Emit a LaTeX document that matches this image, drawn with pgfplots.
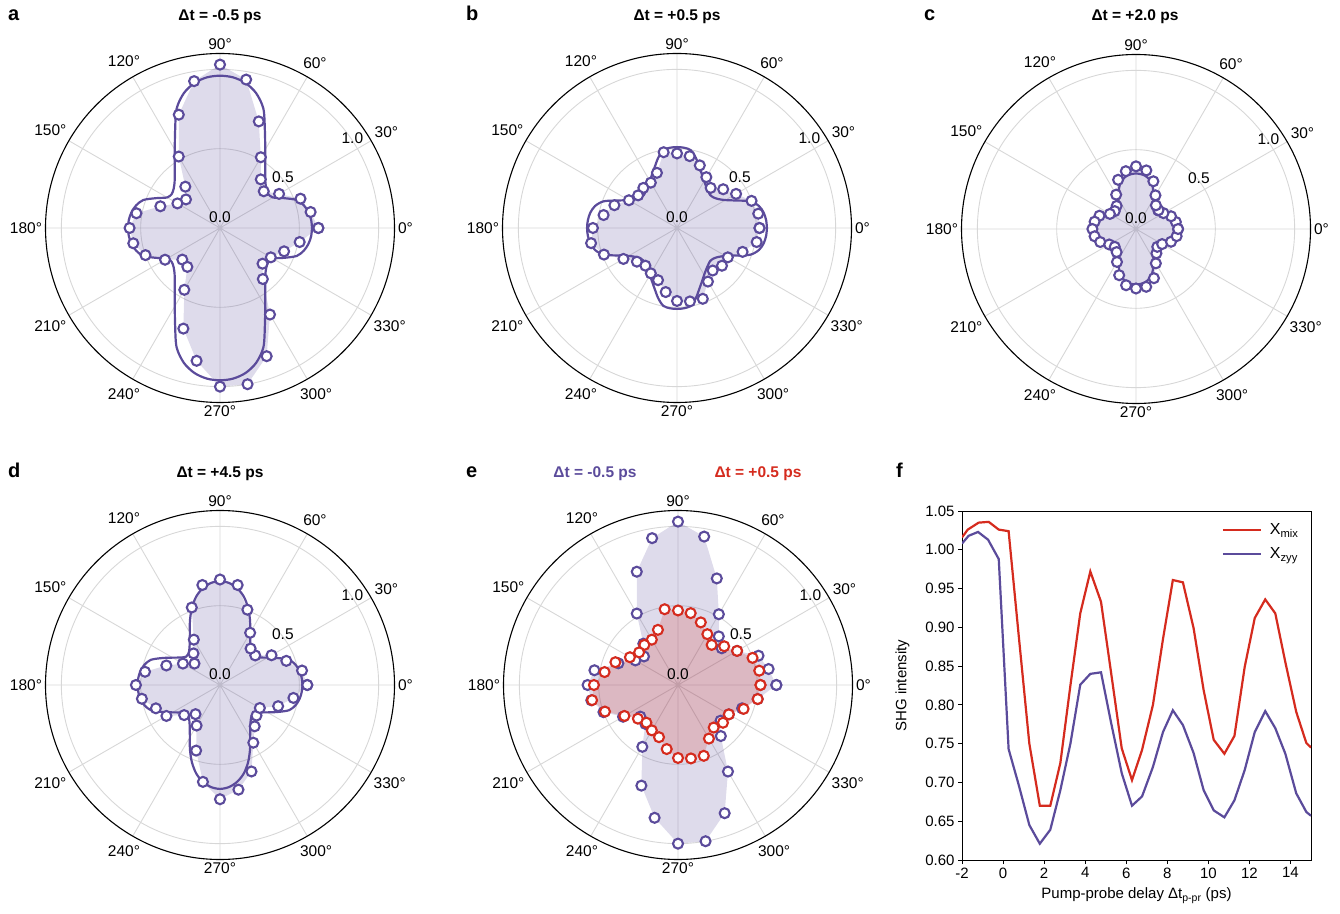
\documentclass[border=0pt]{standalone}
\usepackage{pgfplots}
\pgfplotsset{compat=1.18}
\usepackage{pgfplotstable}
\usepgfplotslibrary{polar}
\usepackage{fontspec}
\setmainfont{Liberation Sans}
\definecolor{pur}{RGB}{91,75,155}
\definecolor{redc}{RGB}{213,43,30}
\definecolor{grd}{RGB}{215,215,215}
\newcommand\tk{\fontsize{15.5}{18}\selectfont}
\newcommand\tkf{\fontsize{15}{18}\selectfont}

% ---------- polar data (angle in degrees, normalised SHG intensity) ----------
\pgfplotstableread{
a r
0 0.62
10 0.58
20 0.54
30 0.43
40 0.36
50 0.40
60 0.515
70 0.715
80 0.95
90 1.03
100 0.94
110 0.76
120 0.52
130 0.34
140 0.28
150 0.31
160 0.40
170 0.535
180 0.57
190 0.555
200 0.50
210 0.40
220 0.31
230 0.32
240 0.45
250 0.675
260 0.85
270 1.00
280 1.00
290 0.86
300 0.63
310 0.42
320 0.35
330 0.37
340 0.43
350 0.51
360 0.62
}\dA
\pgfplotstableread{
a r
0 .580
5 .577
10 .567
15 .548
20 .515
25 .445
30 .385
35 .372
40 .382
45 .405
50 .443
55 .497
60 .570
65 .670
70 .800
75 .880
80 .928
85 .953
90 .960
95 .953
100 .928
105 .880
110 .800
115 .670
120 .570
125 .497
130 .443
135 .405
140 .382
145 .372
150 .385
155 .445
160 .515
165 .548
170 .567
175 .577
180 .580
185 .577
190 .567
195 .548
200 .515
205 .445
210 .385
215 .372
220 .382
225 .405
230 .443
235 .497
240 .570
245 .670
250 .800
255 .880
260 .928
265 .953
270 .960
275 .953
280 .928
285 .880
290 .800
295 .670
300 .570
305 .497
310 .443
315 .405
320 .382
325 .372
330 .385
335 .445
340 .515
345 .548
350 .567
355 .577
360 .580
}\fA
\pgfplotstableread{
a r
0 0.52
10 0.52
20 0.50
30 0.43
40 0.38
50 0.33
60 0.37
70 0.42
80 0.46
90 0.47
100 0.485
110 0.37
120 0.33
130 0.33
140 0.32
150 0.35
160 0.42
170 0.47
180 0.53
190 0.55
200 0.49
210 0.39
220 0.33
230 0.31
240 0.33
250 0.35
260 0.41
270 0.46
280 0.47
290 0.475
300 0.39
310 0.35
320 0.37
330 0.37
340 0.44
350 0.51
360 0.52
}\dB
\pgfplotstableread{
a r
0 .567
5 .564
10 .555
15 .535
20 .492
25 .410
30 .352
35 .318
40 .300
45 .295
50 .305
55 .320
60 .342
65 .372
70 .410
75 .458
80 .498
85 .508
90 .510
95 .508
100 .498
105 .458
110 .410
115 .372
120 .342
125 .320
130 .305
135 .295
140 .300
145 .318
150 .352
155 .410
160 .492
165 .535
170 .555
175 .564
180 .567
185 .564
190 .555
195 .535
200 .492
205 .410
210 .352
215 .318
220 .300
225 .295
230 .305
235 .320
240 .342
245 .372
250 .410
255 .458
260 .498
265 .508
270 .510
275 .508
280 .498
285 .458
290 .410
295 .372
300 .342
305 .320
310 .305
315 .295
320 .300
325 .318
330 .352
335 .410
340 .492
345 .535
350 .555
355 .564
360 .567
}\fB
\pgfplotstableread{
a r
0 0.265
10 0.255
20 0.235
30 0.20
40 0.185
50 0.195
60 0.245
70 0.32
80 0.375
90 0.395
100 0.37
110 0.33
120 0.25
130 0.19
140 0.175
150 0.19
160 0.245
170 0.265
180 0.275
190 0.265
200 0.24
210 0.195
220 0.175
230 0.19
240 0.24
250 0.31
260 0.36
270 0.375
280 0.37
290 0.33
300 0.25
310 0.20
320 0.175
330 0.19
340 0.235
350 0.26
360 0.265
}\dC
\pgfplotstableread{
a r
0 .250
5 .248
10 .244
15 .237
20 .224
25 .203
30 .176
35 .156
40 .152
45 .158
50 .171
55 .192
60 .220
65 .258
70 .298
75 .323
80 .340
85 .347
90 .350
95 .347
100 .340
105 .323
110 .298
115 .258
120 .220
125 .192
130 .171
135 .158
140 .152
145 .156
150 .176
155 .203
160 .224
165 .237
170 .244
175 .248
180 .250
185 .248
190 .244
195 .237
200 .224
205 .203
210 .176
215 .156
220 .152
225 .158
230 .171
235 .192
240 .220
245 .258
250 .298
255 .323
260 .340
265 .347
270 .350
275 .347
280 .340
285 .323
290 .298
295 .258
300 .220
305 .192
310 .171
315 .158
320 .152
325 .156
330 .176
335 .203
340 .224
345 .237
350 .244
355 .248
360 .250
}\fC
\pgfplotstableread{
a r
0 0.55
10 0.525
20 0.445
30 0.375
40 0.29
50 0.30
60 0.38
70 0.505
80 0.64
90 0.665
100 0.64
110 0.52
120 0.33
130 0.26
140 0.21
150 0.27
160 0.36
170 0.48
180 0.53
190 0.50
200 0.43
210 0.39
220 0.295
230 0.24
240 0.295
250 0.44
260 0.62
270 0.72
280 0.67
290 0.58
300 0.42
310 0.34
320 0.30
330 0.29
340 0.39
350 0.47
360 0.55
}\dD
\pgfplotstableread{
a r
0 .520
5 .517
10 .509
15 .493
20 .464
25 .402
30 .345
35 .302
40 .278
45 .280
50 .300
55 .332
60 .380
65 .448
70 .518
75 .578
80 .620
85 .646
90 .655
95 .646
100 .620
105 .578
110 .518
115 .448
120 .380
125 .332
130 .300
135 .280
140 .278
145 .302
150 .345
155 .402
160 .464
165 .493
170 .509
175 .517
180 .520
185 .517
190 .509
195 .493
200 .464
205 .402
210 .345
215 .302
220 .278
225 .280
230 .300
235 .332
240 .380
245 .448
250 .518
255 .578
260 .620
265 .646
270 .655
275 .646
280 .620
285 .578
290 .518
295 .448
300 .380
305 .332
310 .300
315 .280
320 .278
325 .302
330 .345
335 .402
340 .464
345 .493
350 .509
355 .517
360 .520
}\fD
% ---------- panel f ----------
\pgfplotstableread{
t I
-2.00 1.016
-1.72 1.026
-1.19 1.035
-0.70 1.036
-0.21 1.026
0.27 1.024
0.76 0.890
1.28 0.750
1.79 0.670
2.30 0.670
2.79 0.725
3.28 0.825
3.76 0.918
4.25 0.972
4.77 0.933
5.27 0.840
5.78 0.744
6.28 0.703
6.77 0.742
7.30 0.800
7.79 0.885
8.27 0.961
8.76 0.958
9.28 0.899
9.77 0.819
10.26 0.755
10.78 0.737
11.27 0.760
11.77 0.849
12.26 0.912
12.77 0.936
13.26 0.918
13.75 0.855
14.28 0.791
14.77 0.751
15.00 0.745
}\fmix
\pgfplotstableread{
t I
-2.00 1.008
-1.68 1.018
-1.22 1.023
-0.73 1.013
-0.21 0.988
0.27 0.743
0.76 0.697
1.28 0.645
1.79 0.621
2.30 0.639
2.79 0.690
3.28 0.750
3.76 0.826
4.25 0.840
4.77 0.842
5.27 0.776
5.78 0.712
6.28 0.670
6.77 0.682
7.30 0.720
7.79 0.765
8.27 0.793
8.76 0.774
9.28 0.738
9.77 0.690
10.26 0.664
10.78 0.655
11.27 0.677
11.77 0.716
12.26 0.765
12.77 0.792
13.26 0.770
13.75 0.737
14.28 0.686
14.77 0.662
15.00 0.657
}\fzyy

\pgfplotsset{
  mypolar/.style={
    scale only axis, width=349pt, height=349pt,
    anchor=center,
    xmin=0, xmax=360, ymin=0, ymax=1.1,
    xtick={0,30,...,330},
    xticklabels={0°,30°,60°,90°,120°,150°,180°,210°,240°,270°,300°,330°},
    ytick={0.5,1.0}, yticklabels={},
    yticklabel style={text opacity=0, draw=none, fill=none},
    grid=major, major grid style={grd, line width=0.9pt},
    x axis line style={black, line width=1.1pt},
    y axis line style={draw=none},
    tick style={draw=none},
    xticklabel style={font=\tk},
    clip=false,
  },
  fillp/.style={draw=none, fill=#1, fill opacity=0.2, forget plot},
  fitp/.style={#1, line width=2.2pt, smooth},
  datp/.style={#1, only marks, line width=2.1pt, mark=*, mark size=5pt, mark options={fill=white, draw=#1, line width=2.1pt}},
}
\newcommand\rlabels{%
  \node[font=\tk] at (axis cs:39,0.51) {0.5};
  \node[font=\tk] at (axis cs:34.3,1.01) {1.0};
  \node[font=\tk, anchor=base, inner sep=0pt] at (axis cs:90,0.035) {0.0};
}

\begin{document}
\begin{tikzpicture}
% a
\begin{polaraxis}[mypolar, at={(220pt,685pt)}]
\addplot[fillp=pur] table[x=a,y=r] {\dA};
\addplot[fitp=pur] table[x=a,y=r] {\fA};
\addplot[datp=pur] table[x=a,y=r] {\dA};
\rlabels
\end{polaraxis}
% b
\begin{polaraxis}[mypolar, at={(677pt,685pt)}]
\addplot[fillp=pur] table[x=a,y=r] {\dB};
\addplot[fitp=pur] table[x=a,y=r] {\fB};
\addplot[datp=pur] table[x=a,y=r] {\dB};
\rlabels
\end{polaraxis}
% c
\begin{polaraxis}[mypolar, at={(1136pt,684pt)}]
\addplot[fillp=pur] table[x=a,y=r] {\dC};
\addplot[fitp=pur] table[x=a,y=r] {\fC};
\addplot[datp=pur] table[x=a,y=r] {\dC};
\rlabels
\end{polaraxis}
% d
\begin{polaraxis}[mypolar, at={(220pt,228pt)}]
\addplot[fillp=pur] table[x=a,y=r] {\dD};
\addplot[fitp=pur] table[x=a,y=r] {\fD};
\addplot[datp=pur] table[x=a,y=r] {\dD};
\rlabels
\end{polaraxis}
% e
\begin{polaraxis}[mypolar, at={(678pt,228pt)}]
\addplot[fillp=pur] table[x=a,y=r] {\dA};
\addplot[fillp=redc] table[x=a,y=r] {\dB};
\addplot[datp=pur] table[x=a,y=r] {\dA};
\addplot[datp=redc] table[x=a,y=r] {\dB};
\rlabels
\end{polaraxis}
% f
\begin{axis}[at={(962pt,53pt)}, anchor=south west, scale only axis,
  width=349pt, height=349pt,
  xmin=-2, xmax=15, ymin=0.6, ymax=1.05,
  xtick={-2,0,2,4,6,8,10,12,14}, xticklabels={-2,0,2,4,6,8,10,12,14},
  ytick={0.6,0.65,0.7,0.75,0.8,0.85,0.9,0.95,1.0,1.05},
  yticklabels={0.60,0.65,0.70,0.75,0.80,0.85,0.90,0.95,1.00,1.05},
  tick align=outside, xtick pos=bottom, ytick pos=left,
  major tick length=4pt, tick style={black, line width=0.9pt},
  axis line style={line width=0.9pt},
  ticklabel style={font=\tkf},
  label style={font=\tkf},
  xlabel={Pump-probe delay Δt\textsubscript{p-pr} (ps)},
  xlabel style={yshift=-3pt},
  ylabel={SHG intensity},
  ylabel style={yshift=9pt},
  legend cell align=left,
  legend style={at={(0.735,0.975)}, anchor=north west, draw=none, fill=none,
    font=\fontsize{16}{19}\selectfont, row sep=7pt},
  legend image code/.code={\draw[#1] (0pt,0pt) -- (38pt,0pt); \path (44pt,0pt);},
]
\addplot[redc, line width=2.2pt] table[x=t,y=I] {\fmix};
\addlegendentry{Χ\textsubscript{mix}}
\addplot[pur, line width=2.2pt] table[x=t,y=I] {\fzyy};
\addlegendentry{Χ\textsubscript{zyy}}
\end{axis}
% titles and panel letters
\begin{scope}[every node/.style={inner sep=0pt}]
\node[anchor=base west, font=\fontsize{20}{24}\selectfont\bfseries] at (8pt,892.5pt) {a};
\node[anchor=base west, font=\fontsize{20}{24}\selectfont\bfseries] at (466pt,892.5pt) {b};
\node[anchor=base west, font=\fontsize{20}{24}\selectfont\bfseries] at (924pt,892.5pt) {c};
\node[anchor=base west, font=\fontsize{20}{24}\selectfont\bfseries] at (8pt,435pt) {d};
\node[anchor=base west, font=\fontsize{20}{24}\selectfont\bfseries] at (466pt,435pt) {e};
\node[anchor=base west, font=\fontsize{20}{24}\selectfont\bfseries] at (896pt,435pt) {f};
\node[anchor=base, font=\fontsize{15.5}{18}\selectfont\bfseries] at (220pt,892.5pt) {Δt = -0.5 ps};
\node[anchor=base, font=\fontsize{15.5}{18}\selectfont\bfseries] at (677pt,892.5pt) {Δt = +0.5 ps};
\node[anchor=base, font=\fontsize{15.5}{18}\selectfont\bfseries] at (1135pt,892.5pt) {Δt = +2.0 ps};
\node[anchor=base, font=\fontsize{15.5}{18}\selectfont\bfseries] at (220pt,435pt) {Δt = +4.5 ps};
\node[anchor=base, font=\fontsize{15.5}{18}\selectfont\bfseries, text=pur] at (595pt,435pt) {Δt = -0.5 ps};
\node[anchor=base, font=\fontsize{15.5}{18}\selectfont\bfseries, text=redc] at (758pt,435pt) {Δt = +0.5 ps};
\end{scope}
\pgfresetboundingbox
\path (0,0) rectangle (1340pt,913pt);
\end{tikzpicture}
\end{document}
